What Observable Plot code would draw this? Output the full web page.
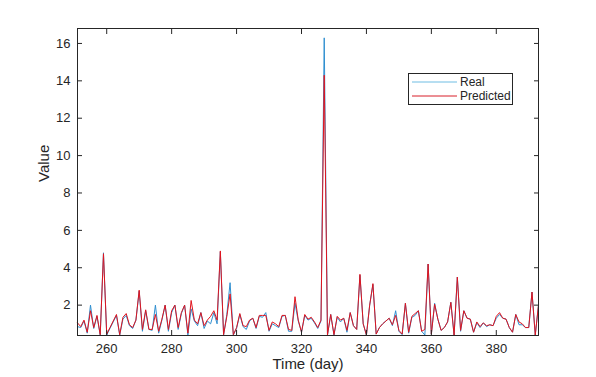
<!DOCTYPE html>
<html>
<head>
<meta charset="utf-8">
<script src="https://cdn.jsdelivr.net/npm/d3@7"></script>
<script src="https://cdn.jsdelivr.net/npm/@observablehq/plot@0.6"></script>
<style>
  html, body { margin: 0; padding: 0; background: #fff; }
  #wrap { position: relative; width: 596px; height: 377px; font-family: "Liberation Sans", Arial, sans-serif; }
</style>
</head>
<body>
<div id="wrap"></div>
<script>
const days = d3.range(251, 394);
const real = [
  0.85, 0.8, 1.15, 0.5, 2.0, 0.75, 1.4, 0.4, 4.8, 0.4,
  0.75, 1.1, 1.45, 0.4, 1.25, 1.45, 0.9, 0.75, 1.2, 2.75,
  0.6, 1.7, 0.7, 0.65, 2.0, 0.5, 1.2, 2.0, 0.6, 1.6,
  2.0, 0.7, 1.55, 2.0, 0.4, 1.8, 1.15, 0.9, 1.6, 0.75,
  1.15, 1.0, 1.6, 1.0, 4.85, 0.4, 1.5, 3.2, 0.4, 0.75,
  1.5, 0.85, 0.7, 1.15, 1.3, 0.75, 1.4, 1.35, 1.6, 0.6,
  1.0, 0.9, 0.8, 1.4, 1.45, 0.6, 0.6, 2.1, 1.15, 0.55,
  1.45, 1.2, 1.3, 1.05, 0.75, 1.15, 16.3, 0.4, 1.5, 0.4,
  1.35, 1.1, 1.3, 0.55, 1.6, 0.9, 0.7, 3.6, 1.0, 0.4,
  2.0, 3.1, 0.45, 0.8, 1.0, 1.15, 1.3, 0.9, 1.7, 0.6,
  0.42, 2.1, 0.5, 1.35, 1.45, 1.7, 0.6, 0.4, 4.2, 0.45,
  2.1, 1.25, 0.65, 0.8, 1.1, 2.15, 0.4, 3.5, 0.6, 1.7,
  1.3, 1.25, 0.55, 1.05, 0.8, 1.05, 0.85, 0.95, 0.9, 1.3,
  1.5, 1.3, 1.25, 0.8, 0.55, 1.5, 0.95, 0.95, 0.8, 0.8,
  2.7, 0.4, 2.0
];
const predicted = [
  1.05, 0.85, 1.2, 0.55, 1.7, 0.8, 1.45, 0.42, 4.75, 0.45,
  0.8, 1.15, 1.5, 0.42, 1.35, 1.55, 0.95, 0.8, 1.2, 2.8,
  0.7, 1.75, 0.7, 0.7, 1.5, 0.6, 1.25, 2.0, 0.7, 1.7,
  2.0, 0.8, 1.6, 2.0, 0.5, 2.25, 1.2, 1.0, 1.6, 0.9,
  1.2, 1.4, 1.7, 1.2, 4.9, 0.42, 1.4, 2.6, 0.42, 0.8,
  1.55, 0.9, 0.85, 1.2, 1.3, 0.8, 1.45, 1.45, 1.45, 0.65,
  1.1, 1.0, 0.85, 1.45, 1.45, 0.7, 0.65, 2.45, 1.2, 0.55,
  1.5, 1.25, 1.35, 1.1, 0.8, 1.2, 14.3, 0.4, 1.5, 0.42,
  1.4, 1.2, 1.3, 0.65, 1.6, 0.9, 0.7, 3.65, 1.0, 0.4,
  2.0, 3.15, 0.45, 0.8, 1.0, 1.15, 1.3, 0.95, 1.45, 0.65,
  0.45, 2.1, 0.55, 1.4, 1.55, 1.7, 0.6, 0.7, 4.2, 0.45,
  2.05, 1.25, 0.65, 0.8, 1.1, 2.15, 0.4, 3.5, 0.65, 1.7,
  1.3, 1.25, 0.55, 1.1, 0.85, 1.05, 0.9, 0.95, 0.9, 1.4,
  1.6, 1.3, 1.25, 0.8, 0.55, 1.5, 1.1, 1.0, 0.8, 0.8,
  2.7, 0.4, 2.0
];
const xTicks = [260, 280, 300, 320, 340, 360, 380];
const yTicks = [2, 4, 6, 8, 10, 12, 14, 16];
const seriesNames = ["Real", "Predicted"];
const seriesColors = ["#2f8fd0", "#e0141e"];
const legendColors = ["#6fbde3", "#d81e28"];

const rows = days.map((d, i) => ({day: d, real: real[i], predicted: predicted[i]}));
const ink = "#262626";

const chart = Plot.plot({
  width: 596,
  height: 377,
  marginLeft: 77,
  marginRight: 58,
  marginTop: 28,
  marginBottom: 42,
  style: {fontFamily: "Liberation Sans, Arial, sans-serif", fontSize: "13px", color: ink, background: "#fff"},
  x: {domain: [251, 393], nice: false},
  y: {domain: [0.375, 16.8], nice: false},
  marks: [
    Plot.lineY(rows, {x: "day", y: "real", stroke: seriesColors[0], strokeWidth: 1}),
    Plot.lineY(rows, {x: "day", y: "predicted", stroke: seriesColors[1], strokeWidth: 1}),
    Plot.frame({stroke: ink, strokeWidth: 1}),
    Plot.axisX(xTicks, {anchor: "bottom", tickSize: 0, tickPadding: 8, label: null, fontSize: 13, fill: ink}),
    Plot.axisX(xTicks, {anchor: "bottom", tickSize: -5, tickFormat: () => "", label: null, stroke: ink}),
    Plot.axisX(xTicks, {anchor: "top", tickSize: -5, tickFormat: () => "", label: null, stroke: ink}),
    Plot.axisY(yTicks, {anchor: "left", tickSize: 0, tickPadding: 7, label: null, fontSize: 13, fill: ink}),
    Plot.axisY(yTicks, {anchor: "left", tickSize: -5, tickFormat: () => "", label: null, stroke: ink}),
    Plot.axisY(yTicks, {anchor: "right", tickSize: -5, tickFormat: () => "", label: null, stroke: ink}),
    Plot.text(["Time (day)"], {frameAnchor: "bottom", dy: 33, fontSize: 15, fill: ink}),
    Plot.text(["Value"], {frameAnchor: "left", dx: -33, rotate: -90, fontSize: 15, fill: ink})
  ]
});

const wrap = document.getElementById("wrap");
wrap.appendChild(chart);

// Legend box (drawn as a small SVG overlay)
const lw = 105, lh = 32;
const legend = d3.create("svg")
  .attr("width", lw)
  .attr("height", lh)
  .style("position", "absolute")
  .style("left", "408px")
  .style("top", "73px");
legend.append("rect")
  .attr("x", 0.5).attr("y", 0.5)
  .attr("width", lw - 1).attr("height", lh - 1)
  .attr("fill", "#fff").attr("stroke", ink);
seriesNames.forEach((name, i) => {
  const cy = 9 + i * 14;
  legend.append("line")
    .attr("x1", 4).attr("x2", 49)
    .attr("y1", cy).attr("y2", cy)
    .attr("stroke", legendColors[i]).attr("stroke-width", 1);
  legend.append("text")
    .attr("x", 52).attr("y", cy)
    .attr("dy", "0.35em")
    .attr("font-family", "Liberation Sans, Arial, sans-serif")
    .attr("font-size", 12)
    .attr("fill", ink)
    .text(name);
});
wrap.appendChild(legend.node());
</script>
</body>
</html>
